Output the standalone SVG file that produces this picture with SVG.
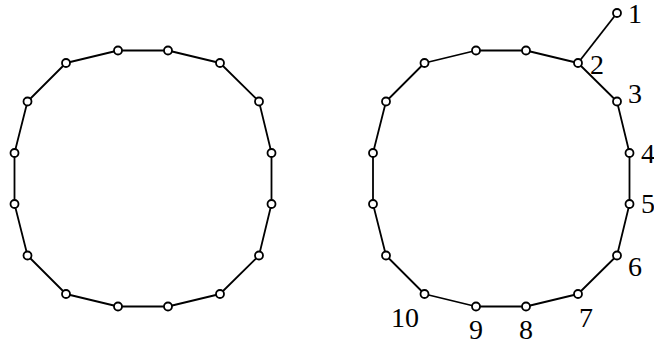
<svg xmlns="http://www.w3.org/2000/svg" width="654" height="345" viewBox="0 0 654 345">
<style>
.e{fill:none;stroke:#000;stroke-width:1.8;stroke-linejoin:round}
.n{fill:#fff;stroke:#000;stroke-width:1.8}
.t{font-family:"Liberation Serif","Times New Roman",serif;font-size:28px;fill:#000}
</style>
<rect width="654" height="345" fill="#fff"/>
<g id="connectors">
<polygon class="e" points="118,50.5 168,50.5 220,63 259,101.5 271.5,153 271.5,204 259,255.5 220,294 168,306.5 118,306.5 66,294 27.5,255.5 14.5,204 14.5,153 27.5,101.5 66,63"/>
<polygon class="e" points="476,50.5 526,50.5 578,63 617,101.5 629.5,153 629.5,204 617,255.5 578,294 526,306.5 476,306.5 424.5,294 386,255.5 373,204 373,153 386,101.5 424.5,63"/>
<line class="e" x1="578" y1="63" x2="617" y2="13"/>
</g>
<g id="left-nodes">
<circle class="n" cx="118" cy="50.5" r="4"/><circle class="n" cx="168" cy="50.5" r="4"/>
<circle class="n" cx="220" cy="63" r="4"/><circle class="n" cx="259" cy="101.5" r="4"/>
<circle class="n" cx="271.5" cy="153" r="4"/><circle class="n" cx="271.5" cy="204" r="4"/>
<circle class="n" cx="259" cy="255.5" r="4"/><circle class="n" cx="220" cy="294" r="4"/>
<circle class="n" cx="168" cy="306.5" r="4"/><circle class="n" cx="118" cy="306.5" r="4"/>
<circle class="n" cx="66" cy="294" r="4"/><circle class="n" cx="27.5" cy="255.5" r="4"/>
<circle class="n" cx="14.5" cy="204" r="4"/><circle class="n" cx="14.5" cy="153" r="4"/>
<circle class="n" cx="27.5" cy="101.5" r="4"/><circle class="n" cx="66" cy="63" r="4"/>
</g>
<g id="right-nodes">
<circle class="n" cx="476" cy="50.5" r="4"/><circle class="n" cx="526" cy="50.5" r="4"/>
<circle class="n" cx="424.5" cy="63" r="4"/><circle class="n" cx="386" cy="101.5" r="4"/>
<circle class="n" cx="373" cy="153" r="4"/><circle class="n" cx="373" cy="204" r="4"/>
<circle class="n" cx="386" cy="255.5" r="4"/>
</g>
<g id="n1"><circle class="n" cx="617" cy="13" r="4"/><text class="t" x="628" y="23">1</text></g>
<g id="n2"><circle class="n" cx="578" cy="63" r="4"/><text class="t" x="590" y="74">2</text></g>
<g id="n3"><circle class="n" cx="617" cy="101.5" r="4"/><text class="t" x="628" y="103">3</text></g>
<g id="n4"><circle class="n" cx="629.5" cy="153" r="4"/><text class="t" x="641" y="163">4</text></g>
<g id="n5"><circle class="n" cx="629.5" cy="204" r="4"/><text class="t" x="641" y="213">5</text></g>
<g id="n6"><circle class="n" cx="617" cy="255.5" r="4"/><text class="t" x="628" y="276">6</text></g>
<g id="n7"><circle class="n" cx="578" cy="294" r="4"/><text class="t" x="579" y="327">7</text></g>
<g id="n8"><circle class="n" cx="526" cy="306.5" r="4"/><text class="t" x="526" y="339" text-anchor="middle">8</text></g>
<g id="n9"><circle class="n" cx="476" cy="306.5" r="4"/><text class="t" x="476" y="339" text-anchor="middle">9</text></g>
<g id="n10"><circle class="n" cx="424.5" cy="294" r="4"/><text class="t" x="391" y="327">10</text></g>
</svg>
